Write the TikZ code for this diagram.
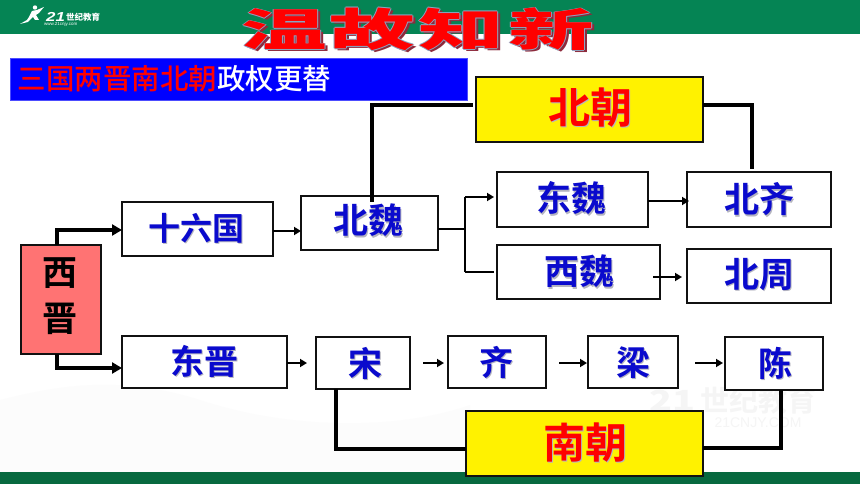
\documentclass[tikz,border=0pt]{standalone}
\usepackage{fontspec}
\usetikzlibrary{arrows.meta,calc}
\setmainfont{Noto Sans CJK SC}[BoldFont={Noto Sans CJK SC Bold}]
\newfontfamily\heavy{Noto Sans CJK SC Black}
\newfontfamily\mediumf{Noto Sans CJK SC Medium}
\newfontfamily\latinf{Liberation Sans}
\definecolor{topgreen}{HTML}{058454}
\definecolor{botgreen}{HTML}{07693F}
\definecolor{txtblue}{HTML}{0A0ACD}
\definecolor{shade}{HTML}{B4B4C0}
\definecolor{salmon}{HTML}{FF7373}
\definecolor{frame}{HTML}{111111}
\definecolor{titleedge}{HTML}{8CA6C4}
\definecolor{titleshadow}{HTML}{8E2A3C}
\newcommand{\ofs}[4]{\rlap{\kern#1pt\raisebox{#2pt}{\textcolor{#3}{#4}}}}
\newcommand{\shtext}[5]{% name, position, size, colour, text
  \node[font={\fontsize{#3}{#3}\selectfont\bfseries},inner sep=0pt] (#1) at (#2) {\ofs{1.2}{-1.4}{shade}{#5}\textcolor{#4}{#5}};}
\newcommand{\titlech}[3]{% name, x, char
  \node[font=\heavy\fontsize{45}{45}\selectfont,inner sep=0pt] (#1) at (#2,30) {\scalebox{1.9}[1]{%
    \ofs{1.6}{-1.6}{titleshadow}{#3}%
    \ofs{-.6}{0}{titleedge}{#3}\ofs{.6}{0}{titleedge}{#3}\ofs{0}{.7}{titleedge}{#3}\ofs{0}{-.7}{titleedge}{#3}%
    \textcolor{red}{#3}}};}
\newcommand{\bx}[7]{% style,name,x1,y1,x2,y2,fill
  \pgfmathsetmacro{\bxw}{#5-#3}\pgfmathsetmacro{\bxh}{#6-#4}
  \node[#1,fill=#7,minimum width=\bxw pt,minimum height=\bxh pt] (#2) at ({(#3+#5)/2},{(#4+#6)/2}) {};}
\tikzset{
  boxn/.style={draw=frame,line width=2.2pt,inner sep=0pt,outer sep=0pt},
  thinl/.style={draw=black,line width=1.8pt},
  thickl/.style={draw=black,line width=3.2pt,line join=miter},
  thinarr/.style={thinl,-{Triangle[length=7pt,width=8pt]}},
  bigarr/.style={thickl,-{Triangle[length=10pt,width=11pt]}},
}
\begin{document}
\begin{tikzpicture}[x=1pt,y=-1pt]
\useasboundingbox (0,0) rectangle (860,484);
\fill[white] (0,0) rectangle (860,484);
% faint book and watermark
\fill[black!1] (0,400) .. controls (60,385) and (120,375) .. (200,400) .. controls (290,430) and (400,430) .. (470,405) -- (470,472) -- (0,472) -- cycle;
\fill[black!1] (40,400) .. controls (100,395) and (170,420) .. (220,472) -- (40,472) -- cycle;
\node[font=\fontsize{29}{29}\selectfont\bfseries,text=black!4,inner sep=0pt] (wm) at (733,400) {\scalebox{1.3}[1]{\itshape 21}\,世纪教育};
\node[font=\latinf\fontsize{14}{14}\selectfont,text=black!4,inner sep=0pt] (wmurl) at (758,423) {21CNJY.COM};
% bars
\fill[topgreen] (0,0) rectangle (860,34);
\fill[botgreen] (0,472) rectangle (860,484);
% logo
\node[font=\latinf\fontsize{13}{13}\selectfont\bfseries\itshape,text=white,inner sep=0pt,anchor=west] (logoa) at (46,16.5) {\scalebox{1.3}[1]{21}};
\node[font=\fontsize{8.5}{8.5}\selectfont\bfseries\itshape,text=white,inner sep=0pt,anchor=west] (logob) at (66,17) {世纪教育};
\node[font=\latinf\fontsize{4.5}{4.5}\selectfont,text=white,inner sep=0pt,anchor=west] (logoc) at (44,24.5) {www.21cnjy.com};
\fill[white] (35,7.5) circle (2.2) (29,17) -- (32,11) -- (37,10) -- (44,7) -- (39,13) -- (36,15) -- (39,20) -- (35,20) -- (33,17) -- (28,22) -- (20,24) -- (27,20) -- cycle;
% title
\titlech{tia}{284}{温}
\titlech{tib}{372.5}{故}
\titlech{tic}{461}{知}
\titlech{tid}{551.5}{新}
% banner
\fill[fill=blue,draw=blue!70!white,line width=.6pt] (10,58) rectangle (467,100);
\node[font=\mediumf\fontsize{28.5}{28.5}\selectfont,inner sep=0pt,anchor=west] (banner) at (17.5,79) {\textcolor{red}{三国两晋南北朝}\textcolor{white}{政权更替}};
% boxes
\bx{boxn}{xijin}{21}{245}{101}{354}{salmon}
\bx{boxn}{shiliu}{122}{202}{273}{256}{white}
\bx{boxn}{beiwei}{301}{196}{438}{250}{white}
\bx{boxn}{dongjin}{122}{336}{287}{388}{white}
\bx{boxn}{song}{316}{337}{410}{389}{white}
\bx{boxn}{qi}{448}{336}{546}{388}{white}
\bx{boxn}{liang}{588}{336}{678}{388}{white}
\bx{boxn}{chen}{725}{337}{823}{390}{white}
\bx{boxn}{nanchao}{466}{411}{703}{476}{yellow}
\bx{boxn}{beichao}{476}{77}{703}{142}{yellow}
\bx{boxn}{dongwei}{497}{172}{648}{227}{white}
\bx{boxn}{beiqi}{687}{172}{831}{227}{white}
\bx{boxn}{xiwei}{497}{245}{660}{299}{white}
\bx{boxn}{beizhou}{687}{249}{831}{303}{white}
% labels
\node[font=\fontsize{35}{35}\selectfont\bfseries,text=black,inner sep=0pt] (la) at (60,273) {西};
\node[font=\fontsize{35}{35}\selectfont\bfseries,text=black,inner sep=0pt] (lb) at (60,319) {晋};
\shtext{lc}{196,229}{32}{txtblue}{十六国}
\shtext{ld}{368,221}{35}{txtblue}{北魏}
\shtext{le}{204,362}{34}{txtblue}{东晋}
\shtext{lf}{365,364}{34}{txtblue}{宋}
\shtext{lg}{496,363}{34}{txtblue}{齐}
\shtext{lh}{633,363}{34}{txtblue}{梁}
\shtext{li}{775,364}{34}{txtblue}{陈}
\shtext{lj}{571,199}{35}{txtblue}{东魏}
\shtext{lk}{579,272}{35}{txtblue}{西魏}
\shtext{ll}{759,200}{35}{txtblue}{北齐}
\shtext{lm}{759,275}{35}{txtblue}{北周}
\shtext{ln}{590,108}{42}{red}{北朝}
\shtext{lo}{585,443}{42}{red}{南朝}
% junction coordinates
\coordinate (cxa) at (57,230);
\coordinate (cxb) at (57,368);
\coordinate (cwb) at (372,105);
\coordinate (cbq) at (752,105);
\coordinate (cfa) at (465,229);
\coordinate (cfb) at (465,197);
\coordinate (cfc) at (465,272);
\coordinate (cso) at (336,449);
\coordinate (cch) at (781,448);
% connectors
\draw[bigarr] (xijin.north -| cxa) -- (cxa) -- (shiliu.west |- cxa);
\draw[bigarr] (xijin.south -| cxb) -- (cxb) -- (dongjin.west |- cxb);
\draw[thinarr] ($(shiliu.east)+(0,2)$) -- ($(beiwei.west |- shiliu.east)+(0,2)$);
\draw[thickl] ($(beiwei.north -| cwb)+(0,6)$) -- (cwb) -- ($(beichao.west |- cwb)+(-3,0)$);
\draw[thickl] (beichao.east |- cbq) -- (cbq) -- ($(beiqi.north -| cbq)+(0,-3)$);
\draw[thinl] (beiwei.east |- cfa) -- (cfa);
\draw[thinl] (cfc) -- (cfb);
\draw[thinarr] (cfb) -- ($(dongwei.west |- cfb)+(-3,0)$);
\draw[thinl] (cfc) -- ($(xiwei.west |- cfc)+(-3,0)$);
\draw[thinarr] (dongwei.east |- 0,201) -- ($(beiqi.west |- 0,201)+(2,0)$);
\draw[thinarr] ($(xiwei.east |- 0,277)+(-7,0)$) -- ($(beizhou.west |- 0,277)+(-5,0)$);
\draw[thinarr] (dongjin.east |- 0,363) -- ($(song.west |- 0,363)+(-9,0)$);
\draw[thinarr] ($(song.east |- 0,363)+(13,0)$) -- ($(qi.west |- 0,363)+(-4,0)$);
\draw[thinarr] ($(qi.east |- 0,363)+(13,0)$) -- ($(liang.west |- 0,363)+(-1,0)$);
\draw[thinarr] ($(liang.east |- 0,363)+(17,0)$) -- ($(chen.west |- 0,363)+(-2,0)$);
\draw[thickl] (song.south -| cso) -- (cso) -- (nanchao.west |- cso);
\draw[thickl] (chen.south -| cch) -- (cch) -- (nanchao.east |- cch);
\end{tikzpicture}
\end{document}
